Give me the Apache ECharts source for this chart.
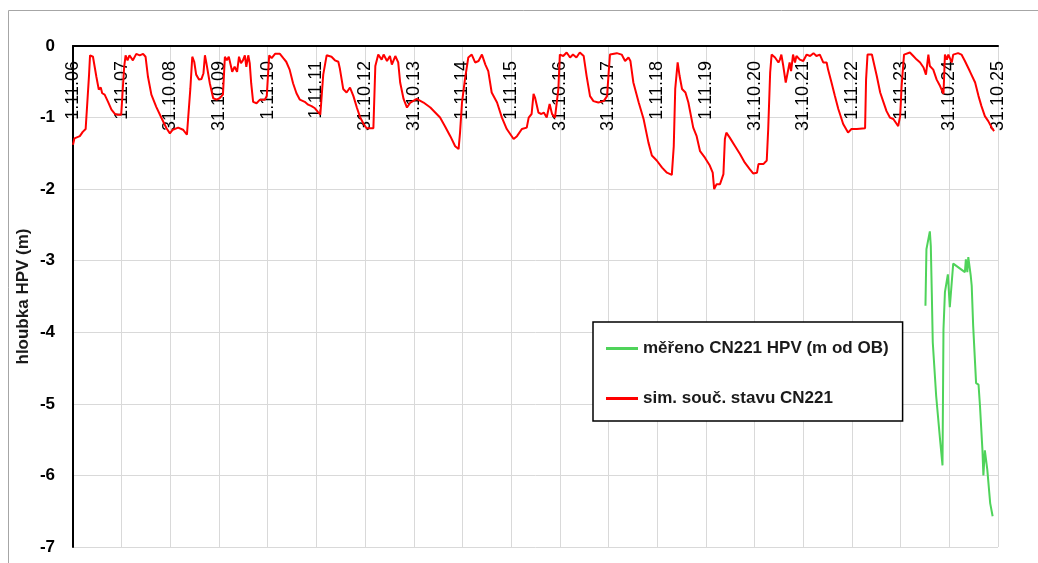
<!DOCTYPE html>
<html>
<head>
<meta charset="utf-8">
<script src="https://cdn.jsdelivr.net/npm/echarts/dist/echarts.min.js"></script>
<style>
  html, body { margin: 0; padding: 0; background: #fff; }
  #chart { width: 1038px; height: 563px; }
</style>
</head>
<body>
<div id="chart"></div>
<script>
// tick labels on the top axis (one per year, x = years since 1.11.06)
const tickLabels = ['1.11.06', '1.11.07', '31.10.08', '31.10.09', '1.11.10', '1.11.11', '31.10.12',
    '31.10.13', '1.11.14', '1.11.15', '31.10.16', '31.10.17', '1.11.18', '1.11.19', '31.10.20',
    '31.10.21', '1.11.22', '1.11.23', '31.10.24', '31.10.25'];

// simulated level (red), years from start / depth in m
const simT = [0.00, 0.03, 0.14, 0.20, 0.26, 0.29, 0.33, 0.35, 0.38, 0.41, 0.48, 0.53, 0.57, 0.60, 0.65,
    0.72, 0.79, 0.86, 0.92, 0.99, 1.02, 1.05, 1.08, 1.12, 1.16, 1.23, 1.30, 1.37, 1.44, 1.49, 1.54,
    1.61, 1.71, 1.82, 1.92, 1.99, 2.05, 2.16, 2.26, 2.34, 2.38, 2.41, 2.45, 2.49, 2.53, 2.59, 2.64,
    2.68, 2.71, 2.74, 2.81, 2.88, 2.95, 3.01, 3.04, 3.08, 3.12, 3.16, 3.20, 3.27, 3.32, 3.37, 3.41,
    3.45, 3.49, 3.53, 3.56, 3.60, 3.63, 3.66, 3.70, 3.77, 3.84, 3.94, 3.98, 4.03, 4.08, 4.15, 4.25,
    4.32, 4.38, 4.45, 4.52, 4.59, 4.66, 4.76, 4.83, 4.90, 4.97, 5.03, 5.08, 5.14, 5.21, 5.31, 5.38,
    5.45, 5.48, 5.55, 5.62, 5.69, 5.73, 5.76, 5.83, 5.90, 5.97, 6.03, 6.17, 6.21, 6.27, 6.34, 6.38,
    6.45, 6.51, 6.55, 6.62, 6.68, 6.72, 6.79, 6.86, 6.93, 7.06, 7.20, 7.34, 7.44, 7.54, 7.64, 7.75,
    7.85, 7.92, 7.95, 7.99, 8.05, 8.12, 8.19, 8.26, 8.33, 8.40, 8.47, 8.53, 8.60, 8.71, 8.81, 8.91,
    9.05, 9.12, 9.22, 9.32, 9.36, 9.42, 9.46, 9.49, 9.56, 9.62, 9.67, 9.73, 9.79, 9.84, 9.90, 9.94,
    9.97, 10.00, 10.07, 10.14, 10.21, 10.27, 10.34, 10.41, 10.49, 10.55, 10.62, 10.69, 10.79, 10.90,
    10.97, 11.00, 11.03, 11.17, 11.27, 11.34, 11.41, 11.45, 11.51, 11.62, 11.72, 11.82, 11.89, 11.99,
    12.10, 12.20, 12.30, 12.34, 12.37, 12.42, 12.46, 12.51, 12.58, 12.64, 12.74, 12.81, 12.88, 12.98,
    13.08, 13.14, 13.17, 13.22, 13.29, 13.36, 13.39, 13.42, 13.49, 13.60, 13.70, 13.80, 13.90, 13.97,
    14.05, 14.08, 14.18, 14.25, 14.28, 14.32, 14.35, 14.42, 14.45, 14.49, 14.52, 14.55, 14.59, 14.64,
    14.68, 14.72, 14.75, 14.79, 14.83, 14.86, 14.93, 15.00, 15.07, 15.14, 15.21, 15.27, 15.34, 15.41,
    15.48, 15.51, 15.58, 15.65, 15.72, 15.82, 15.92, 15.99, 16.10, 16.27, 16.29, 16.32, 16.41, 16.44,
    16.51, 16.58, 16.64, 16.71, 16.78, 16.85, 16.92, 16.95, 16.99, 17.02, 17.07, 17.19, 17.26, 17.33,
    17.40, 17.47, 17.52, 17.57, 17.60, 17.67, 17.74, 17.81, 17.88, 17.91, 17.95, 17.98, 18.05, 18.08,
    18.18, 18.25, 18.32, 18.42, 18.53, 18.60, 18.66, 18.73, 18.80, 18.87, 18.92];
const simDepth = [-1.38, -1.29, -1.26, -1.20, -1.16, -1.15, -0.40, -0.13, -0.11, -0.15, -0.43, -0.61, -0.58, -0.66, -0.68,
    -0.78, -0.89, -0.95, -0.96, -0.96, -0.97, -0.30, -0.13, -0.20, -0.13, -0.20, -0.11, -0.13, -0.11, -0.15, -0.43,
    -0.68, -0.85, -1.01, -1.15, -1.22, -1.17, -1.14, -1.17, -1.24, -1.26, -0.60, -0.15, -0.22, -0.40, -0.47, -0.46,
    -0.38, -0.13, -0.24, -0.52, -0.73, -0.75, -0.73, -0.75, -0.68, -0.15, -0.20, -0.15, -0.36, -0.29, -0.36, -0.15,
    -0.24, -0.20, -0.13, -0.29, -0.13, -0.24, -0.52, -0.78, -0.80, -0.75, -0.75, -0.70, -0.13, -0.17, -0.11, -0.11,
    -0.17, -0.22, -0.33, -0.52, -0.66, -0.75, -0.78, -0.82, -0.84, -0.87, -0.92, -0.96, -0.40, -0.13, -0.15, -0.20,
    -0.22, -0.31, -0.60, -0.65, -0.58, -0.56, -0.70, -0.86, -1.00, -1.09, -1.15, -1.15, -0.28, -0.12, -0.19, -0.12,
    -0.21, -0.14, -0.26, -0.14, -0.23, -0.51, -0.74, -0.86, -0.79, -0.74, -0.79, -0.86, -0.93, -1.00, -1.12, -1.26,
    -1.40, -1.44, -1.21, -0.79, -0.47, -0.16, -0.12, -0.23, -0.21, -0.12, -0.26, -0.35, -0.65, -0.79, -1.00, -1.16,
    -1.30, -1.26, -1.16, -1.14, -1.00, -0.95, -0.67, -0.72, -0.93, -0.95, -0.93, -1.00, -0.81, -0.95, -1.00, -1.02,
    -0.60, -0.12, -0.14, -0.09, -0.16, -0.12, -0.16, -0.09, -0.14, -0.42, -0.70, -0.77, -0.79, -0.77,
    -0.70, -0.40, -0.12, -0.10, -0.12, -0.21, -0.16, -0.21, -0.51, -0.79, -1.02, -1.35, -1.53, -1.60,
    -1.70, -1.77, -1.80, -1.40, -0.60, -0.23, -0.42, -0.60, -0.65, -0.79, -1.14, -1.26, -1.47, -1.56,
    -1.67, -1.77, -2.00, -1.93, -1.93, -1.79, -1.30, -1.21, -1.28, -1.40, -1.51, -1.63, -1.72, -1.78,
    -1.77, -1.65, -1.65, -1.60, -1.16, -0.37, -0.12, -0.16, -0.14, -0.23, -0.19, -0.12, -0.28, -0.51,
    -0.37, -0.23, -0.35, -0.12, -0.23, -0.14, -0.19, -0.21, -0.12, -0.14, -0.10, -0.14, -0.12, -0.23,
    -0.23, -0.33, -0.51, -0.70, -0.88, -1.09, -1.21, -1.16, -1.16, -1.15, -0.47, -0.12, -0.12, -0.21,
    -0.42, -0.65, -0.77, -0.91, -1.00, -1.02, -1.09, -1.12, -0.98, -0.56, -0.12, -0.09, -0.14, -0.19,
    -0.23, -0.30, -0.40, -0.12, -0.28, -0.33, -0.47, -0.56, -0.67, -0.12, -0.19, -0.12, -0.23, -0.12,
    -0.10, -0.12, -0.21, -0.35, -0.51, -0.70, -0.84, -0.98, -1.05, -1.14, -1.19];

// measured level (green)
const measT = [17.51, 17.53, 17.60, 17.62, 17.64, 17.66, 17.73, 17.81, 17.86, 17.88, 17.91, 17.97, 18.01,
    18.08, 18.32, 18.34, 18.37, 18.39, 18.41, 18.44, 18.46, 18.49, 18.55, 18.60, 18.63, 18.68, 18.70,
    18.73, 18.75, 18.78, 18.84, 18.89];
const measDepth = [-3.63, -2.84, -2.59, -2.80, -3.44, -4.14, -4.89, -5.50, -5.86, -3.96, -3.44, -3.19, -3.65,
    -3.04, -3.16, -2.98, -3.16, -2.95, -2.93, -3.21, -3.35, -3.91, -4.71, -4.73, -5.03, -5.64, -6.00,
    -5.65, -5.65, -5.92, -6.39, -6.57];

const font = 'Liberation Sans, Arial, sans-serif';
const simData = simT.map((t, i) => [t, simDepth[i]]);
const measData = measT.map((t, i) => [t, measDepth[i]]);

let myChart = echarts.init(document.getElementById('chart'));

let option = {
    backgroundColor: '#fff',
    animation: false,
    textStyle: {fontFamily: font},
    graphic: [
        {
            type: 'polyline',
            shape: {points: [[8.5, 600], [8.5, 10.5], [1100, 10.5]]},
            style: {stroke: '#a6a6a6', fill: null, lineWidth: 1}
        }
    ],
    grid: {left: 73, top: 46, right: 40, bottom: 16},
    legend: {
        orient: 'vertical',
        left: 593,
        top: 322,
        padding: [18, 14, 14, 13],
        itemGap: 33,
        itemWidth: 32,
        itemHeight: 3,
        icon: 'rect',
        borderColor: '#000',
        borderWidth: 1.5,
        backgroundColor: '#fff',
        textStyle: {fontFamily: font, fontSize: 17, fontWeight: 'bold', color: '#1a1a1a'},
        data: ['měřeno CN221 HPV (m od OB)', 'sim. souč. stavu CN221']
    },
    xAxis: {
        type: 'value',
        position: 'top',
        min: 0,
        max: 19,
        interval: 1,
        axisLine: {onZero: false, lineStyle: {color: '#000', width: 2}},
        axisTick: {show: false},
        splitLine: {show: true, lineStyle: {color: '#d9d9d9', width: 1}},
        axisLabel: {
            inside: true,
            rotate: -90,
            margin: 15,
            showMinLabel: true,
            showMaxLabel: true,
            fontFamily: font,
            fontSize: 18,
            color: '#000',
            formatter: v => tickLabels[Math.round(v)]
        }
    },
    yAxis: {
        type: 'value',
        min: -7,
        max: 0,
        interval: 1,
        name: 'hloubka HPV (m)',
        nameLocation: 'middle',
        nameRotate: 90,
        nameGap: 41,
        nameMoveOverlap: false,
        nameTextStyle: {fontFamily: font, fontSize: 17, fontWeight: 'bold', color: '#1a1a1a'},
        axisLine: {show: true, lineStyle: {color: '#000', width: 2}},
        axisTick: {show: false},
        splitLine: {show: true, lineStyle: {color: '#d9d9d9', width: 1}},
        axisLabel: {fontFamily: font, fontSize: 17, fontWeight: 'bold', color: '#000', margin: 18}
    },
    series: [
        {
            name: 'měřeno CN221 HPV (m od OB)',
            type: 'line',
            symbol: 'none',
            color: '#4fd35a',
            lineStyle: {width: 2},
            data: measData,
            z: 3
        },
        {
            name: 'sim. souč. stavu CN221',
            type: 'line',
            symbol: 'none',
            color: '#ff0000',
            lineStyle: {width: 2},
            data: simData,
            z: 2
        }
    ]
};

myChart.setOption(option);
</script>
</body>
</html>
